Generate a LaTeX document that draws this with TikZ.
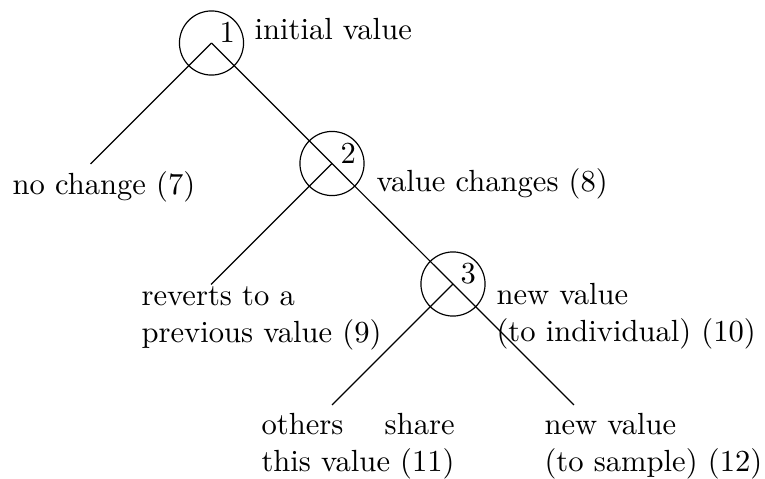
\documentclass[tikz,border=0pt]{standalone}
\begin{document}
\begin{tikzpicture}[x=0.34pt,y=-0.34pt,
  lbl/.style={inner sep=0pt, anchor=base west, align=left, font=\fontsize{10.4}{12.6}\selectfont},
  ring/.style={circle, draw, line width=0.4pt, inner sep=0pt, minimum size=21.8pt},
  branch/.style={line width=0.4pt}]
\useasboundingbox (0,0) rectangle (765,479);
% decision points
\node[ring] (c1) at (211.5,43) {};
\node[ring] (c2) at (332,163.5) {};
\node[ring] (c3) at (453,284) {};
% free ends
\coordinate (e1) at (90.5,164);
\coordinate (e2) at (211,284.5);
\coordinate (e3) at (332,405);
\coordinate (e4) at (574,405);
% connectors
\draw[branch] (c1.center) -- (e1);
\draw[branch] (c1.center) -- (c2.center) -- (c3.center) -- (e4);
\draw[branch] (c2.center) -- (e2);
\draw[branch] (c3.center) -- (e3);
% numbers
\node[lbl] (n1) at (219,42) {1};
\node[lbl] (n2) at (340,164) {2};
\node[lbl] (n3) at (460,284) {3};
% labels
\node[lbl] (t1) at (254,40) {initial value};
\node[lbl] (t7) at (12,195) {no change (7)};
\node[lbl] (t8) at (376,192) {value changes (8)};
\node[lbl] (t9) at (141,343) {reverts to a\\previous value (9)};
\node[lbl] (t10) at (496,342) {new value\\(to individual) (10)};
\node[lbl] (t11) at (261,472) {\setbox0\hbox{this value (11)}\hbox to \wd0{others\hfill share}\\this value (11)};
\node[lbl] (t12) at (544,472) {new value\\(to sample) (12)};
\end{tikzpicture}
\end{document}
